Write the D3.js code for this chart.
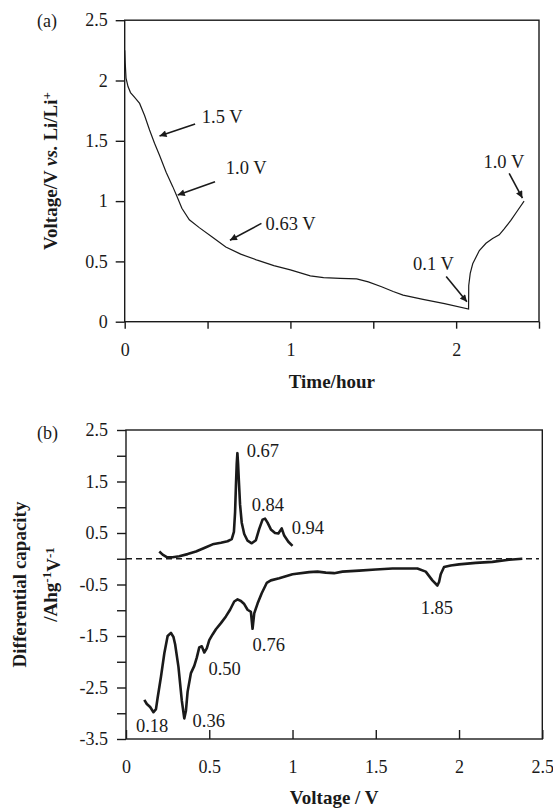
<!DOCTYPE html>
<html><head><meta charset="utf-8">
<script src="https://cdn.jsdelivr.net/npm/d3@7"></script>
<style>
body{margin:0;background:#fff;}
text{font-family:"Liberation Serif","Times New Roman",serif;fill:#1a1a1a;}
</style></head>
<body>
<svg id="c" width="553" height="809"></svg>
<script>
// ---------- Panel (a): voltage vs time ----------
const timeA = [0,0.003,0.008,0.02,0.035,0.06,0.09,0.12,0.15,0.18,0.21,0.25,0.29,0.315,0.345,0.39,0.45,0.53,0.61,0.70,0.80,0.90,1.00,1.12,1.20,1.30,1.40,1.47,1.55,1.62,1.68,1.80,1.93,2.075,2.076,2.085,2.10,2.14,2.18,2.22,2.26,2.29,2.33,2.37,2.41];
const voltA = [2.25,2.15,2.02,1.95,1.90,1.86,1.81,1.71,1.59,1.48,1.38,1.24,1.12,1.04,0.94,0.845,0.78,0.70,0.62,0.56,0.51,0.465,0.43,0.38,0.365,0.36,0.355,0.33,0.29,0.25,0.22,0.185,0.15,0.105,0.30,0.40,0.48,0.59,0.65,0.69,0.72,0.77,0.84,0.92,1.00];
const ticksAx = [0,0.5,1,1.5,2,2.5];
const ticksAy = [0,0.5,1,1.5,2,2.5];
// annotations: label, text position, arrow tail, arrow head (data coords: time, voltage)
const annA = [
  {label:"1.5 V", tx:0.465, ty:1.70, x1:0.425, y1:1.64, x2:0.21, y2:1.54},
  {label:"1.0 V", tx:0.61,  ty:1.28, x1:0.545, y1:1.16, x2:0.32, y2:1.05},
  {label:"0.63 V",tx:0.85,  ty:0.815,x1:0.825, y1:0.815,x2:0.635,y2:0.675},
  {label:"0.1 V", tx:1.74,  ty:0.485,x1:1.94,  y1:0.375,x2:2.065,y2:0.165},
  {label:"1.0 V", tx:2.165, ty:1.327,x1:2.32,  y1:1.230,x2:2.40, y2:1.025}
];

// ---------- Panel (b): differential capacity vs voltage ----------
const voltCharge = [0.20,0.22,0.245,0.28,0.32,0.37,0.42,0.47,0.52,0.57,0.61,0.635,0.648,0.655,0.660,0.665,0.669,0.673,0.678,0.685,0.695,0.71,0.73,0.755,0.78,0.80,0.82,0.835,0.85,0.87,0.895,0.915,0.935,0.95,0.975,1.00];
const dqCharge   = [0.14,0.08,0.03,0.03,0.05,0.09,0.14,0.21,0.28,0.31,0.34,0.38,0.52,0.90,1.40,1.85,2.05,1.85,1.50,1.05,0.70,0.48,0.35,0.30,0.36,0.58,0.76,0.78,0.70,0.57,0.50,0.49,0.59,0.45,0.33,0.25];
const voltDis = [0.11,0.125,0.145,0.165,0.18,0.19,0.21,0.23,0.25,0.27,0.285,0.295,0.315,0.335,0.35,0.36,0.37,0.39,0.41,0.425,0.44,0.455,0.47,0.485,0.50,0.52,0.54,0.57,0.60,0.625,0.65,0.67,0.69,0.71,0.73,0.75,0.76,0.77,0.79,0.815,0.845,0.87,0.92,1.00,1.10,1.15,1.20,1.25,1.30,1.40,1.50,1.60,1.75,1.80,1.84,1.87,1.88,1.89,1.91,1.95,2.00,2.10,2.20,2.30,2.38];
const dqDis   = [-2.74,-2.82,-2.88,-2.98,-2.92,-2.70,-2.29,-1.84,-1.50,-1.44,-1.52,-1.66,-2.10,-2.75,-3.10,-2.95,-2.58,-2.22,-2.08,-1.92,-1.72,-1.70,-1.82,-1.74,-1.58,-1.47,-1.37,-1.25,-1.12,-0.99,-0.83,-0.79,-0.82,-0.88,-0.99,-1.03,-1.36,-1.06,-0.87,-0.67,-0.47,-0.42,-0.38,-0.30,-0.26,-0.25,-0.27,-0.28,-0.25,-0.23,-0.21,-0.19,-0.19,-0.25,-0.42,-0.52,-0.45,-0.30,-0.16,-0.13,-0.11,-0.08,-0.06,-0.02,0.00];
const ticksBx = [0,0.5,1,1.5,2,2.5];
const ticksBy = [-3.5,-3,-2.5,-2,-1.5,-1,-0.5,0,0.5,1,1.5,2,2.5];
const peakLabels = [
  {label:"0.67", x:0.725, y:2.11},
  {label:"0.84", x:0.755, y:1.06},
  {label:"0.94", x:0.995, y:0.605},
  {label:"1.85", x:1.77,  y:-0.95},
  {label:"0.76", x:0.76,  y:-1.66},
  {label:"0.50", x:0.495, y:-2.13},
  {label:"0.36", x:0.40,  y:-3.14},
  {label:"0.18", x:0.06,  y:-3.24}
];

const svg = d3.select("#c");
const ink = "#1a1a1a";

svg.append("defs").append("marker")
  .attr("id","ah").attr("viewBox","0 0 10 10").attr("refX",10).attr("refY",5)
  .attr("markerWidth",9).attr("markerHeight",7).attr("markerUnits","userSpaceOnUse")
  .attr("orient","auto")
  .append("path").attr("d","M0,0 L10,5 L0,10 Z").attr("fill",ink);

// ===== Panel (a) =====
const xA = d3.scaleLinear().domain([0,2.5]).range([124.7,539]);
const yA = d3.scaleLinear().domain([0,2.5]).range([321.7,20.2]);

const gA = svg.append("g");
gA.append("rect").attr("x",xA(0)).attr("y",yA(2.5)).attr("width",xA(2.5)-xA(0)).attr("height",yA(0)-yA(2.5))
  .attr("fill","none").attr("stroke",ink).attr("stroke-width",1.4);

const axAy = gA.append("g").attr("transform",`translate(${xA(0)},0)`)
  .call(d3.axisLeft(yA).tickValues(ticksAy).tickSize(9).tickPadding(8).tickFormat(d=>String(d)));
const axAx = gA.append("g").attr("transform",`translate(0,${yA(0)})`)
  .call(d3.axisBottom(xA).tickValues(ticksAx).tickSize(7).tickPadding(15).tickFormat(d=>Number.isInteger(d)?String(d):""));
[axAy,axAx].forEach(a=>{
  a.select(".domain").remove();
  a.selectAll("line").attr("stroke",ink).attr("stroke-width",1.4);
  a.selectAll("text").attr("font-size",18).attr("fill",ink).style("font-family","Liberation Serif");
});

gA.append("path").datum(timeA.map((t,i)=>[t,voltA[i]]))
  .attr("d",d3.line().x(d=>xA(d[0])).y(d=>yA(d[1])))
  .attr("fill","none").attr("stroke",ink).attr("stroke-width",1.2);

annA.forEach(a=>{
  gA.append("line").attr("x1",xA(a.x1)).attr("y1",yA(a.y1)).attr("x2",xA(a.x2)).attr("y2",yA(a.y2))
    .attr("stroke",ink).attr("stroke-width",1.6).attr("marker-end","url(#ah)");
  gA.append("text").attr("x",xA(a.tx)).attr("y",yA(a.ty)).attr("dy","0.35em").attr("font-size",18.5).text(a.label);
});

svg.append("text").attr("x",37).attr("y",27).attr("font-size",18).text("(a)");
svg.append("text").attr("x",(xA(0)+xA(2.5))/2).attr("y",388).attr("text-anchor","middle")
  .attr("font-size",19).attr("font-weight","bold").text("Time/hour");
const ylA = svg.append("text").attr("transform",`translate(57,${(yA(0)+yA(2.5))/2}) rotate(-90)`)
  .attr("text-anchor","middle").attr("font-size",19).attr("font-weight","bold");
ylA.append("tspan").text("Voltage/V ");
ylA.append("tspan").attr("font-style","italic").text("vs.");
ylA.append("tspan").text("  Li/Li");
ylA.append("tspan").attr("dy","-0.45em").attr("font-size",13).text("+");

// ===== Panel (b) =====
const xB = d3.scaleLinear().domain([0,2.5]).range([126,542.3]);
const yB = d3.scaleLinear().domain([-3.5,2.5]).range([739,430]);
const gB = svg.append("g");
gB.append("rect").attr("x",xB(0)).attr("y",yB(2.5)).attr("width",xB(2.5)-xB(0)).attr("height",yB(-3.5)-yB(2.5))
  .attr("fill","none").attr("stroke",ink).attr("stroke-width",1.4);

const isOddHalf = d => Math.abs(Math.round(d*2))%2===1;
const axBy = gB.append("g").attr("transform",`translate(${xB(0)},0)`)
  .call(d3.axisLeft(yB).tickValues(ticksBy).tickSize(9).tickPadding(9).tickFormat(d=>isOddHalf(d)?String(d):""));
const axBx = gB.append("g").attr("transform",`translate(0,${yB(-3.5)})`)
  .call(d3.axisBottom(xB).tickValues(ticksBx).tickSizeInner(-9).tickSizeOuter(0).tickPadding(21).tickFormat(d=>String(d)));
[axBy,axBx].forEach(a=>{
  a.select(".domain").remove();
  a.selectAll("line").attr("stroke",ink).attr("stroke-width",1.4);
  a.selectAll("text").attr("font-size",18).attr("fill",ink).style("font-family","Liberation Serif");
});
axBx.selectAll("text").attr("y",21).attr("dy","0.71em");

gB.append("line").attr("x1",xB(0)).attr("x2",xB(2.48)).attr("y1",yB(0)).attr("y2",yB(0))
  .attr("stroke",ink).attr("stroke-width",1.3).attr("stroke-dasharray","6,4");

const lineB = d3.line().x(d=>xB(d[0])).y(d=>yB(d[1]));
gB.append("path").datum(voltCharge.map((v,i)=>[v,dqCharge[i]])).attr("d",lineB)
  .attr("fill","none").attr("stroke",ink).attr("stroke-width",2.6).attr("stroke-linejoin","round");
gB.append("path").datum(voltDis.map((v,i)=>[v,dqDis[i]])).attr("d",lineB)
  .attr("fill","none").attr("stroke",ink).attr("stroke-width",2.6).attr("stroke-linejoin","round");

peakLabels.forEach(p=>{
  gB.append("text").attr("x",xB(p.x)).attr("y",yB(p.y)).attr("dy","0.35em").attr("font-size",18.5).text(p.label);
});

svg.append("text").attr("x",37).attr("y",439).attr("font-size",18).text("(b)");
svg.append("text").attr("x",(xB(0)+xB(2.5))/2).attr("y",804).attr("text-anchor","middle")
  .attr("font-size",19).attr("font-weight","bold").text("Voltage / V");
const cyB = (yB(-3.5)+yB(2.5))/2;
svg.append("text").attr("transform",`translate(26,${cyB}) rotate(-90)`).attr("text-anchor","middle")
  .attr("font-size",19).attr("font-weight","bold").text("Differential capacity");
const yl2 = svg.append("text").attr("transform",`translate(57,${cyB}) rotate(-90)`).attr("text-anchor","middle")
  .attr("font-size",19).attr("font-weight","bold");
yl2.append("tspan").text("/Ahg");
yl2.append("tspan").attr("dy","-0.45em").attr("font-size",13).text("-1");
yl2.append("tspan").attr("dy","0.45em").text("V");
yl2.append("tspan").attr("dy","-0.45em").attr("font-size",13).text("-1");
</script>
</body></html>
